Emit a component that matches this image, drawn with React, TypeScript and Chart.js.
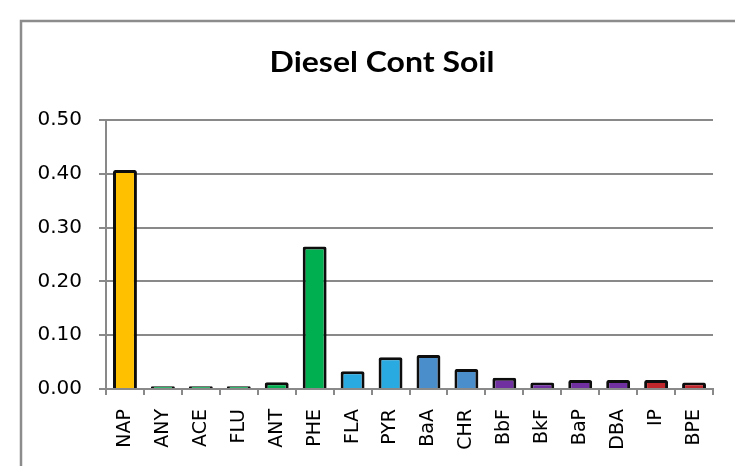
import React, { useEffect, useRef } from "react";
import { Chart, registerables } from "chart.js";

Chart.register(...registerables);

const title = "Diesel Cont Soil";
const categories = ["NAP", "ANY", "ACE", "FLU", "ANT", "PHE", "FLA", "PYR", "BaA", "CHR", "BbF", "BkF", "BaP", "DBA", "IP", "BPE"];
const values = [0.407, 0.005, 0.005, 0.005, 0.0125, 0.265, 0.033, 0.059, 0.063, 0.037, 0.021, 0.012, 0.0165, 0.0165, 0.0165, 0.012];
const barColors = [
  "#FFC000",
  "#00B050", "#00B050", "#00B050", "#00B050", "#00B050",
  "#29ABE2", "#29ABE2",
  "#4A8ECC", "#4A8ECC",
  "#7030A0", "#7030A0", "#7030A0", "#7030A0",
  "#C0272D", "#C0272D",
];
const yTicks = [0, 0.1, 0.2, 0.3, 0.4, 0.5];

const GRID = "#898989";
const TICK_FONT = "'DejaVu Sans', Verdana, sans-serif";

const framePlugin = {
  id: "frame",
  beforeDraw(chart: any) {
    const ctx = chart.ctx;
    ctx.save();
    ctx.fillStyle = "#ffffff";
    ctx.fillRect(0, 0, chart.width, chart.height);
    ctx.strokeStyle = "#8c8c8c";
    ctx.lineWidth = 2.5;
    ctx.strokeRect(21, 21, 800, 600);
    ctx.restore();
  },
  afterDraw(chart: any) {
    const ctx = chart.ctx;
    ctx.save();
    ctx.fillStyle = "#000000";
    ctx.font = "bold 32px Lato";
    ctx.textAlign = "center";
    ctx.textBaseline = "alphabetic";
    ctx.translate(382, 72);
    ctx.scale(1, 0.92);
    ctx.fillText(title, 0, 0);
    ctx.restore();
  },
};

export default function App() {
  const ref = useRef<HTMLCanvasElement | null>(null);
  useEffect(() => {
    if (!ref.current) return;
    const chart = new Chart(ref.current, {
      type: "bar",
      data: {
        labels: categories,
        datasets: [
          {
            data: values,
            backgroundColor: barColors,
            borderColor: "#0d0d0d",
            borderWidth: 3,
            borderSkipped: "bottom",
            borderRadius: 2,
            barPercentage: 0.63,
            categoryPercentage: 1,
          },
        ],
      },
      options: {
        responsive: false,
        animation: false,
        devicePixelRatio: 1,
        layout: { padding: { top: 120, right: 22, left: 0, bottom: 0 } },
        plugins: { legend: { display: false }, tooltip: { enabled: false }, title: { display: false } },
        scales: {
          x: {
            grid: { display: true, drawOnChartArea: false, offset: true, color: GRID, lineWidth: 2, tickLength: 6 },
            border: { display: true, color: GRID, width: 2 },
            ticks: {
              color: "#000000",
              font: { family: TICK_FONT, size: 19 },
              minRotation: 90,
              maxRotation: 90,
              padding: 14,
              autoSkip: false,
            },
            afterFit(scale: any) {
              scale.height = 77;
            },
          },
          y: {
            min: 0,
            max: 0.5,
            grid: { color: GRID, lineWidth: 2, tickLength: 7 },
            border: { display: true, color: GRID, width: 2 },
            afterBuildTicks(scale: any) {
              scale.ticks = yTicks.map((v) => ({ value: v }));
            },
            ticks: {
              color: "#000000",
              font: { family: TICK_FONT, size: 20 },
              padding: 17,
              callback: (v: any) => Number(v).toFixed(2),
            },
            afterFit(scale: any) {
              scale.width = 106;
            },
          },
        },
      },
      plugins: [framePlugin],
    });
    return () => chart.destroy();
  }, []);
  return (
    <div style={{ position: "absolute", left: 0, top: 0, width: 735, height: 466 }}>
      <canvas ref={ref} width={735} height={466} style={{ display: "block" }} />
    </div>
  );
}
